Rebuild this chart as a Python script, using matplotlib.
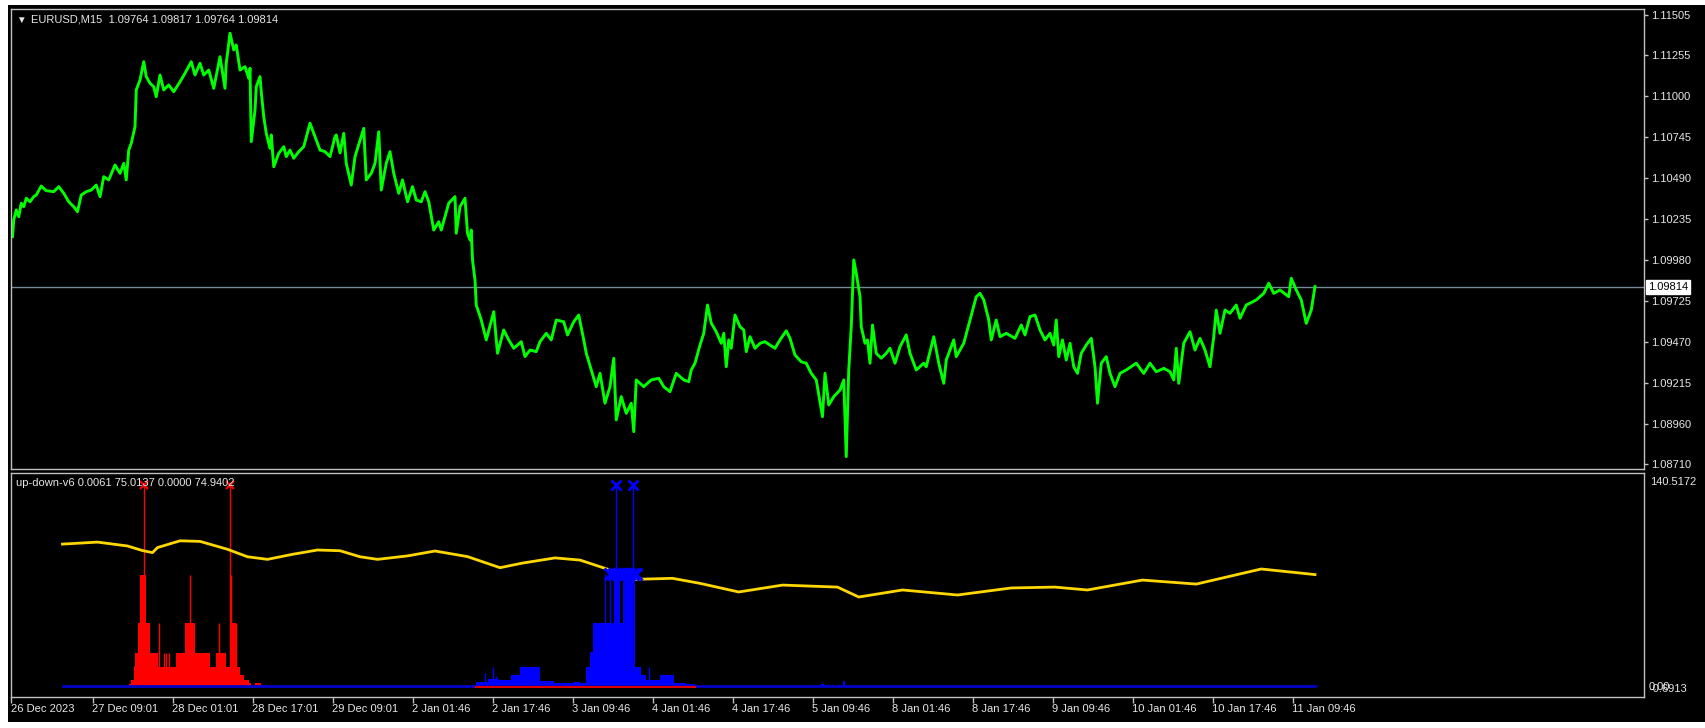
import numpy as np
import matplotlib.pyplot as plt
from matplotlib.patches import Rectangle

plt.rcParams['font.family'] = ['Liberation Sans', 'DejaVu Sans']

W, H = 1705, 728

# ---------------- price panel (EURUSD M15 close, by bar number) ----------------
price_bar = [2, 3, 5, 7, 9, 11, 13, 16, 19, 21, 25, 29, 35, 39, 43, 47, 51, 54, 57, 61,
             65, 69, 72, 75, 79, 84, 88, 91, 93, 95, 97, 100, 101, 104, 107, 109, 112, 115, 117, 120,
             123, 127, 131, 136, 140, 145, 148, 152, 155, 159, 163, 168, 172, 173, 176, 179, 181, 184, 188, 191,
             192, 193, 196, 197, 200, 201, 203, 205, 208, 209, 211, 215, 219, 221, 224, 227, 231, 235, 240, 244,
             248, 252, 256, 260, 261, 264, 267, 269, 273, 276, 283, 285, 289, 292, 295, 297, 301, 304, 307, 311,
             314, 318, 322, 325, 329, 332, 335, 339, 343, 345, 351, 356, 357, 360, 364, 366, 368, 369, 370, 372,
             373, 377, 381, 387, 390, 395, 399, 403, 409, 412, 416, 421, 424, 429, 433, 437, 443, 446, 451, 455,
             459, 461, 465, 469, 472, 476, 480, 483, 485, 489, 493, 497, 499, 501, 507, 513, 519, 523, 528, 533,
             539, 543, 545, 548, 552, 555, 558, 561, 565, 569, 571, 573, 575, 577, 580, 584, 587, 589, 592, 596,
             600, 604, 608, 612, 616, 621, 624, 628, 633, 637, 641, 645, 650, 652, 655, 659, 664, 667, 669, 671,
             673, 675, 677, 680, 681, 684, 686, 688, 690, 693, 697, 701, 704, 708, 712, 717, 720, 725, 731, 733,
             739, 743, 747, 749, 755, 757, 763, 768, 773, 776, 779, 783, 785, 789, 792, 797, 804, 809, 812, 816,
             820, 824, 828, 832, 835, 837, 839, 842, 845, 848, 851, 854, 857, 861, 865, 868, 870, 873, 877, 880,
             884, 888, 893, 901, 907, 912, 917, 923, 928, 931, 933, 935, 939, 944, 948, 952, 956, 960, 963, 965,
             968, 972, 976, 981, 984, 989, 997, 1003, 1007, 1011, 1016, 1023, 1025, 1029, 1033, 1037, 1041, 1044]
price_val = [1.10125, 1.10229, 1.10291, 1.10249, 1.10333, 1.10311, 1.10364, 1.10342, 1.10374, 1.10384,
             1.10440, 1.10411, 1.10405, 1.10436, 1.10395, 1.10342, 1.10311, 1.10280, 1.10384, 1.10405,
             1.10415, 1.10446, 1.10374, 1.10498, 1.10478, 1.10571, 1.10519, 1.10581, 1.10478, 1.10664,
             1.10706, 1.10809, 1.11038, 1.11100, 1.11214, 1.11121, 1.11080, 1.11058, 1.10996, 1.11131,
             1.11038, 1.11069, 1.11027, 1.11089, 1.11142, 1.11214, 1.11131, 1.11204, 1.11131, 1.11162,
             1.11048, 1.11245, 1.11048, 1.11204, 1.11391, 1.11287, 1.11318, 1.11162, 1.11183, 1.11111,
             1.11173, 1.10716, 1.10913, 1.11058, 1.11121, 1.11027, 1.10872, 1.10768, 1.10675, 1.10758,
             1.10560, 1.10644, 1.10685, 1.10623, 1.10664, 1.10613, 1.10654, 1.10685, 1.10831, 1.10747,
             1.10664, 1.10654, 1.10623, 1.10747, 1.10758, 1.10646, 1.10768, 1.10581, 1.10446, 1.10623,
             1.10799, 1.10478, 1.10519, 1.10581, 1.10778, 1.10415, 1.10581, 1.10654, 1.10519, 1.10395,
             1.10478, 1.10342, 1.10436, 1.10353, 1.10342, 1.10405, 1.10342, 1.10166, 1.10218, 1.10166,
             1.10333, 1.10374, 1.10146, 1.10311, 1.10364, 1.10146, 1.10104, 1.10166, 1.09980, 1.09855,
             1.09699, 1.09606, 1.09482, 1.09658, 1.09399, 1.09544, 1.09482, 1.09430, 1.09471, 1.09378,
             1.09419, 1.09409, 1.09471, 1.09523, 1.09482, 1.09606, 1.09595, 1.09513, 1.09595, 1.09637,
             1.09482, 1.09399, 1.09295, 1.09191, 1.09274, 1.09088, 1.09191, 1.09368, 1.08984, 1.09129,
             1.09025, 1.09088, 1.08911, 1.09233, 1.09191, 1.09233, 1.09243, 1.09191, 1.09160, 1.09274,
             1.09233, 1.09222, 1.09295, 1.09337, 1.09450, 1.09523, 1.09699, 1.09586, 1.09533, 1.09461,
             1.09523, 1.09315, 1.09482, 1.09430, 1.09637, 1.09564, 1.09544, 1.09409, 1.09502, 1.09430,
             1.09461, 1.09471, 1.09450, 1.09430, 1.09482, 1.09539, 1.09492, 1.09388, 1.09346, 1.09337,
             1.09274, 1.09233, 1.09004, 1.09274, 1.09077, 1.09129, 1.09170, 1.09233, 1.08755, 1.09295,
             1.09564, 1.09980, 1.09897, 1.09751, 1.09564, 1.09461, 1.09482, 1.09337, 1.09575, 1.09399,
             1.09368, 1.09399, 1.09430, 1.09337, 1.09440, 1.09513, 1.09399, 1.09295, 1.09337, 1.09315,
             1.09502, 1.09337, 1.09212, 1.09357, 1.09482, 1.09378, 1.09461, 1.09606, 1.09751, 1.09772,
             1.09731, 1.09606, 1.09482, 1.09606, 1.09502, 1.09523, 1.09492, 1.09575, 1.09513, 1.09627,
             1.09637, 1.09544, 1.09482, 1.09523, 1.09450, 1.09606, 1.09378, 1.09482, 1.09357, 1.09461,
             1.09315, 1.09274, 1.09399, 1.09450, 1.09492, 1.09315, 1.09088, 1.09337, 1.09378, 1.09274,
             1.09191, 1.09274, 1.09295, 1.09337, 1.09274, 1.09337, 1.09284, 1.09305, 1.09284, 1.09233,
             1.09430, 1.09212, 1.09461, 1.09533, 1.09419, 1.09492, 1.09419, 1.09315, 1.09502, 1.09668,
             1.09523, 1.09668, 1.09648, 1.09699, 1.09617, 1.09699, 1.09731, 1.09772, 1.09835, 1.09772,
             1.09793, 1.09751, 1.09866, 1.09793, 1.09731, 1.09585, 1.09668, 1.09814]
last_price = 1.09814
price_ticks = [1.11505, 1.11255, 1.11000, 1.10745, 1.10490, 1.10235, 1.09980,
               1.09725, 1.09470, 1.09215, 1.08960, 1.08710]

# ---------------- indicator panel (up-down-v6) ----------------
ma_bar = [42, 70, 94, 106, 114, 118, 136, 152, 174, 190, 206, 226, 246, 264, 280, 294,
          318, 340, 366, 392, 410, 436, 456, 480, 500, 530, 552, 583, 618, 662, 679, 714,
          758, 801, 836, 862, 906, 949, 1001, 1044]
ma_val = [98.7, 100.1, 97.4, 94.2, 92.8, 96.3, 101.0, 100.6, 95.1, 89.9, 88.1, 91.6, 94.6, 94.1,
          89.9, 88.1, 90.5, 93.9, 90.0, 82.3, 85.5, 89.1, 87.6, 80.7, 74.2, 74.9, 71.4, 65.4,
          70.2, 68.8, 61.9, 66.8, 63.3, 68.2, 68.8, 66.8, 73.7, 70.9, 81.4, 77.5]

# down histogram (red) as runs of bars: start, end, level
red_start = [95, 97, 99, 100, 102, 104, 109, 112, 118, 133, 140, 148, 160, 165, 173, 176, 181, 184, 187, 191, 196]
red_end = [97, 99, 100, 102, 104, 109, 112, 118, 133, 140, 148, 160, 165, 173, 176, 181, 184, 187, 191, 193, 201]
red_level = [1.5, 4, 14, 23, 43.6, 77, 43.6, 23, 13.4, 23, 43.6, 23, 13.4, 23, 13.4, 43.6, 13.4, 7.6, 4, 2, 2]
red_spike_bar = [107, 119, 123, 125, 127, 144, 167, 176, 177, 181]
red_spike_val = [140.5, 43.6, 23, 23, 23, 77, 43.6, 140.5, 77, 43.6]

# up histogram (blue)
blue_start = [373, 382, 391, 401, 408, 424, 435, 451, 456, 461, 464, 466, 483, 488, 490, 500, 505, 509, 520, 531, 541, 649, 666]
blue_end = [382, 391, 401, 408, 424, 435, 451, 456, 461, 464, 466, 483, 488, 490, 500, 505, 509, 520, 531, 541, 548, 651, 668]
blue_level = [3, 5, 4, 7.5, 13.4, 3.7, 2, 3, 2, 13.4, 23.9, 43.6, 73.7, 43.6, 73.7, 13.4, 7.5, 4, 7.5, 2, 1.5, 1.5, 3.7]
blue_spike_bar = [380, 386, 389, 476, 480, 485, 498, 511]
blue_spike_val = [9, 13, 7, 78, 74, 140.5, 140.5, 13.4]

blue_mark_bar = [480, 483, 486, 489, 492, 495, 498, 501]
blue_mark_val = [78, 78, 78, 78, 78, 78, 78, 78]
top_blue_bar = [485, 498]
top_red_bar = [107, 176]
top_val = 139.5

tick_bar = [1, 66, 130, 194, 258, 322, 386, 450, 514, 578, 642, 706, 770, 834, 898, 962, 1026]
tick_lab = ['26 Dec 2023', '27 Dec 09:01', '28 Dec 01:01', '28 Dec 17:01', '29 Dec 09:01',
            '2 Jan 01:46', '2 Jan 17:46', '3 Jan 09:46', '4 Jan 01:46', '4 Jan 17:46',
            '5 Jan 09:46', '8 Jan 01:46', '8 Jan 17:46', '9 Jan 09:46', '10 Jan 01:46',
            '10 Jan 17:46', '11 Jan 09:46']

FG = '#c0c0c0'
TXT = '#e6e6e6'

fig = plt.figure(figsize=(W / 100, H / 100), dpi=100, facecolor='white')
fig.patches.append(Rectangle((8 / W, 6 / H), 1 - 8 / W, 1 - 11 / H, transform=fig.transFigure,
                             facecolor='black', edgecolor='none', zorder=-10))


def box(l, t, r, b):
    return [l / W, 1 - b / H, (r - l) / W, (b - t) / H]


ax1 = fig.add_axes(box(11, 9, 1644, 469))
ax2 = fig.add_axes(box(11, 473, 1644, 697))

for ax in (ax1, ax2):
    ax.set_facecolor('black')
    for s in ax.spines.values():
        s.set_color(FG)
        s.set_linewidth(1)
    ax.set_xlim(0.8, 1307.2)

# --- price ---
ax1.axhline(last_price, color='#778899', lw=1, zorder=1)
ax1.plot(price_bar, price_val, color='#00ff00', lw=2.1, zorder=2)
ax1.set_ylim(1.086785, 1.11542)
ax1.set_xticks([])
ax1.yaxis.tick_right()
ax1.set_yticks(price_ticks)
ax1.set_yticklabels(['%.5f' % v for v in price_ticks])
ax1.tick_params(axis='y', direction='out', length=3, width=1, color=FG,
                labelcolor=TXT, labelsize=8, pad=2)

fig.text(16 / W, 1 - 20 / H, '\u25bc', color=TXT, fontsize=7, va='center', ha='left')
fig.text(31 / W, 1 - 20 / H, 'EURUSD,M15  1.09764 1.09817 1.09764 1.09814',
         color=TXT, fontsize=8, va='center', ha='left')
fig.text(1648 / W, 1 - 287 / H, '%.5f' % last_price, color='black', fontsize=8, va='center', ha='left',
         bbox=dict(boxstyle='square,pad=0.15', fc='white', ec='white'))

# --- indicator ---
ax2.set_ylim(-7.65, 148.17)
ax2.bar(red_start, red_level, width=np.array(red_end) - np.array(red_start), align='edge',
        color='#ff0000', linewidth=0, zorder=2)
ax2.vlines(red_spike_bar, 0, red_spike_val, color='#ff0000', lw=1, zorder=2)
ax2.bar(blue_start, blue_level, width=np.array(blue_end) - np.array(blue_start), align='edge',
        color='#0000ff', linewidth=0, zorder=2)
ax2.vlines(blue_spike_bar, 0, blue_spike_val, color='#0000ff', lw=1, zorder=2)
ax2.plot([ma_bar[0], ma_bar[-1]], [0, 0], color='#0000cc', lw=2, zorder=3)
ax2.plot([blue_start[0], blue_end[20]], [-0.7, -0.7], color='#dd0000', lw=1.5, zorder=3)
ax2.plot(ma_bar, ma_val, color='#ffd700', lw=2, zorder=4)
ax2.plot(blue_mark_bar, blue_mark_val, ls='none', marker='x', ms=8, mew=2.2, color='#0000ff', zorder=5)
ax2.plot(top_blue_bar, [top_val] * 2, ls='none', marker='x', ms=7, mew=2, color='#0000ff', zorder=5)
ax2.plot(top_red_bar, [top_val] * 2, ls='none', marker='x', ms=6, mew=1.5, color='#ff0000', zorder=5)

ax2.set_yticks([])
ax2.set_xticks(tick_bar)
ax2.set_xticklabels(tick_lab, ha='left')
ax2.tick_params(axis='x', direction='out', length=4, width=1, color=FG,
                labelcolor=TXT, labelsize=8, pad=1)

fig.text(16 / W, 1 - 483 / H, 'up-down-v6 0.0061 75.0137 0.0000 74.9402',
         color=TXT, fontsize=8, va='center', ha='left')
fig.text(1650 / W, 1 - 482 / H, '140.5172', color=TXT, fontsize=8, va='center', ha='left')
fig.text(1649 / W, 1 - 687 / H, '0.00', color=TXT, fontsize=8, va='center', ha='left')
fig.text(1650 / W, 1 - 689 / H, '-0.6913', color=TXT, fontsize=8, va='center', ha='left')

fig.savefig('out.png', dpi=100, facecolor='white')
